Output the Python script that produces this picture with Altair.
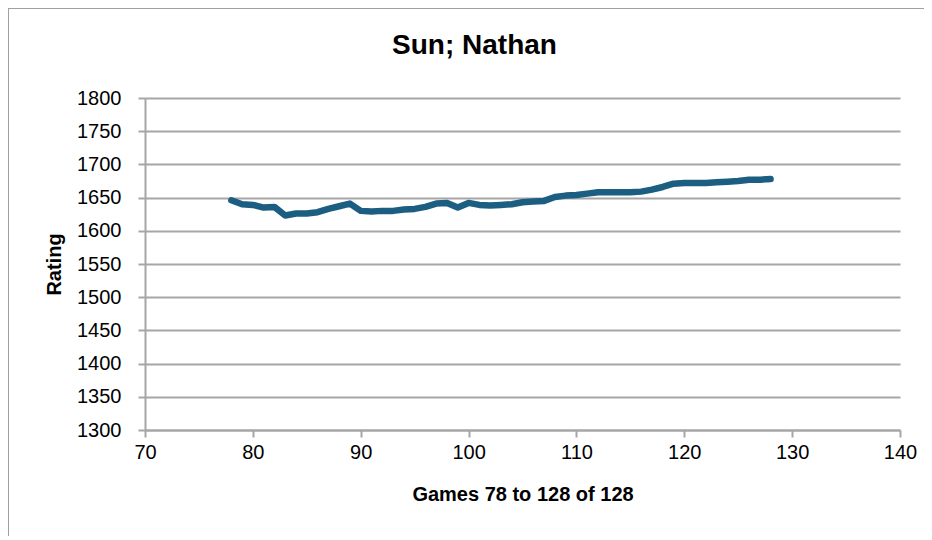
import altair as alt
import pandas as pd

games = list(range(78, 129))
ratings = [1646, 1640, 1639, 1635, 1636, 1623, 1626, 1626, 1628, 1633,
           1637, 1641, 1630, 1629, 1630, 1630, 1632, 1633, 1636, 1641,
           1642, 1635, 1642, 1639, 1638, 1639, 1640, 1643, 1644, 1645,
           1651, 1653, 1654, 1656, 1658, 1658, 1658, 1658, 1659, 1662,
           1666, 1671, 1672, 1672, 1672, 1673, 1674, 1675, 1677, 1677,
           1678]
x_ticks = [70, 80, 90, 100, 110, 120, 130, 140]
y_ticks = [1300, 1350, 1400, 1450, 1500, 1550, 1600, 1650, 1700, 1750, 1800]

df = pd.DataFrame({"game": games, "rating": ratings})
FONT = "Liberation Sans"
GRID = "#a6a6a6"

line = alt.Chart(df).mark_line(
    color="#1b5e82", strokeWidth=6.5, strokeCap="round", strokeJoin="round"
).encode(
    x=alt.X("game:Q", scale=alt.Scale(domain=[70, 140], nice=False),
            axis=alt.Axis(values=x_ticks, title="Games 78 to 128 of 128", grid=False,
                          tickSize=7, labelPadding=5, titlePadding=22, format="d",
                          labelFlush=False)),
    y=alt.Y("rating:Q", scale=alt.Scale(domain=[1300, 1800], nice=False),
            axis=alt.Axis(values=y_ticks, title="Rating", grid=True, format="d",
                          tickSize=7, labelPadding=17, titlePadding=12, labelFlush=False)),
)

border_left = alt.Chart(df).mark_rule(color="#a0a0a0", strokeWidth=1).encode(
    x=alt.value(-137), y=alt.value(-90), y2=alt.value(460))
border_top = alt.Chart(df).mark_rule(color="#a0a0a0", strokeWidth=1).encode(
    x=alt.value(-137), x2=alt.value(790), y=alt.value(-90))

chart = alt.layer(line, border_left, border_top).properties(
    width=755, height=332,
    title=alt.TitleParams("Sun; Nathan", fontSize=28, font=FONT, fontWeight="bold",
                          color="#000000", dx=-48, offset=-52),
    autosize=alt.AutoSizeParams(type="none"),
    padding={"left": 137, "top": 90, "right": 24, "bottom": 106},
    background="white",
).configure_view(stroke=None).configure_axis(
    labelFont=FONT, titleFont=FONT, labelFontSize=20, titleFontSize=20,
    labelColor="#000000", titleColor="#000000", titleFontWeight="bold",
    domainColor=GRID, tickColor=GRID, gridColor=GRID,
    domainWidth=2, tickWidth=2, gridWidth=2,
)

chart.save("out.html", embed_options={"renderer": "svg", "actions": False})
